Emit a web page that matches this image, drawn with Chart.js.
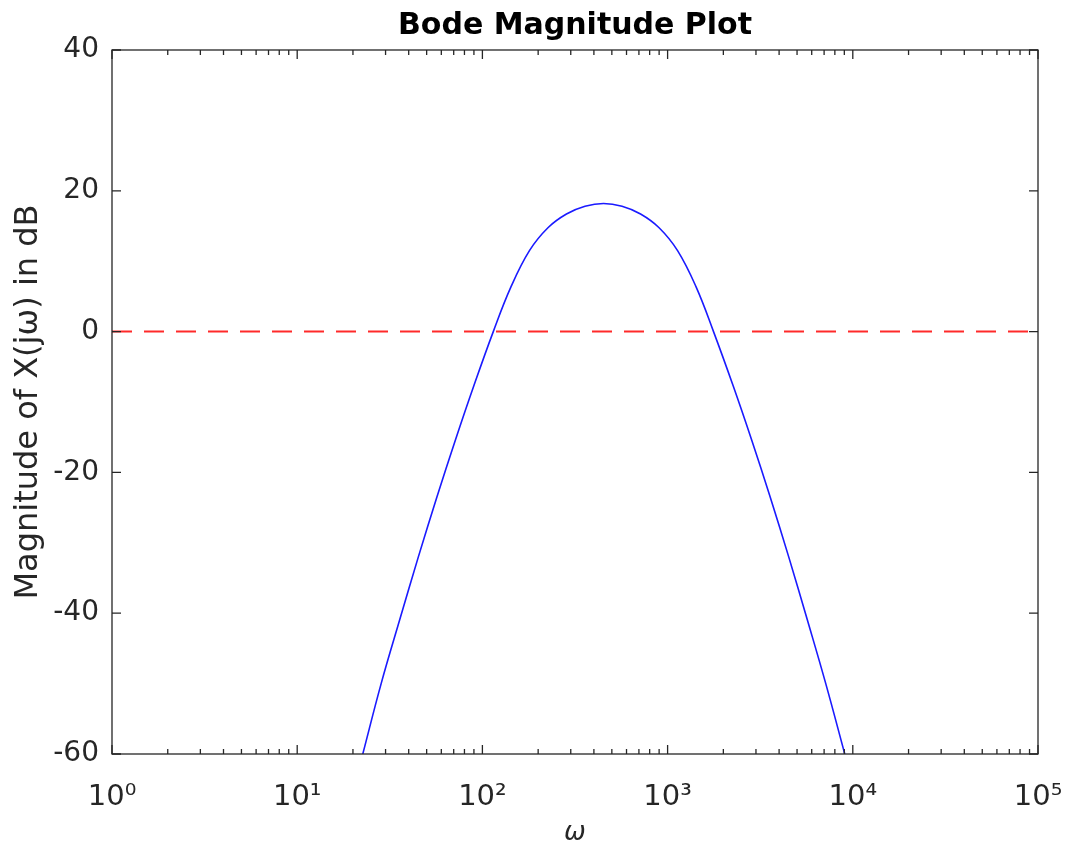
<!DOCTYPE html>
<html>
<head>
<meta charset="utf-8">
<script src="https://cdn.jsdelivr.net/npm/chart.js@4.4.1/dist/chart.umd.min.js"></script>
<style>
html,body{margin:0;padding:0;background:#fff;}
#wrap{width:1070px;height:856px;}
</style>
</head>
<body>
<div id="wrap"><canvas id="c" width="1070" height="856"></canvas></div>
<script>
// ---- data ----
const omega = [22.6, 28.4, 35.8, 45.1, 56.8, 71.5, 89.9, 114.5, 142.6, 179.5, 225.9, 284.4, 358.1, 450.8, 567.5, 714.5, 899.5, 1132, 1425, 1770, 2259, 2844, 3580, 4508, 5675, 7145, 9050];
const magnitudeDb = [-60, -50.0, -40.9, -32.0, -23.5, -15.4, -7.7, 0, 6.35, 11.5, 14.75, 16.7, 17.8, 18.2, 17.8, 16.7, 14.75, 11.5, 6.35, 0, -7.7, -15.4, -23.5, -32.0, -40.9, -50.0, -60];
const referenceOmega = [1, 100000];
const referenceDb = [0, 0];
const xMajorTicks = [1, 10, 100, 1000, 10000, 100000];
const xTickLabels = ['10\u2070', '10\u00B9', '10\u00B2', '10\u00B3', '10\u2074', '10\u2075'];
const xMinorMantissas = [2, 3, 4, 5, 6, 7, 8, 9];
const yTicks = [-60, -40, -20, 0, 20, 40];
const yTickLabels = ['-60', '-40', '-20', '0', '20', '40'];
const chartTitle = 'Bode Magnitude Plot';
const yAxisLabel = 'Magnitude of X(j\u03C9) in dB';
const xAxisLabel = '\u03C9';

const curvePoints = omega.map((w, i) => ({x: w, y: magnitudeDb[i]}));
const refPoints = referenceOmega.map((w, i) => ({x: w, y: referenceDb[i]}));

const axisColor = '#262626';

const framePlugin = {
  id: 'frame',
  afterDraw(chart) {
    const {ctx, chartArea: a, scales: {x, y}} = chart;
    ctx.save();
    ctx.strokeStyle = axisColor;
    ctx.lineWidth = 1.3;
    ctx.beginPath();
    const majorLen = 9, minorLen = 5;
    for (let d = 0; d < xMajorTicks.length - 1; d++) {
      xMinorMantissas.forEach(m => {
        const px = x.getPixelForValue(m * xMajorTicks[d]);
        ctx.moveTo(px, a.bottom); ctx.lineTo(px, a.bottom - minorLen);
        ctx.moveTo(px, a.top); ctx.lineTo(px, a.top + minorLen);
      });
    }
    xMajorTicks.forEach(v => {
      const px = x.getPixelForValue(v);
      ctx.moveTo(px, a.bottom); ctx.lineTo(px, a.bottom - majorLen);
      ctx.moveTo(px, a.top); ctx.lineTo(px, a.top + majorLen);
    });
    yTicks.forEach(v => {
      const py = y.getPixelForValue(v);
      ctx.moveTo(a.left, py); ctx.lineTo(a.left + majorLen, py);
      ctx.moveTo(a.right, py); ctx.lineTo(a.right - majorLen, py);
    });
    ctx.stroke();
    ctx.strokeRect(a.left, a.top, a.right - a.left, a.bottom - a.top);
    ctx.restore();
  }
};

new Chart(document.getElementById('c'), {
  type: 'scatter',
  data: {
    datasets: [
      {
        label: '|X(jω)|',
        data: curvePoints,
        showLine: true,
        borderColor: '#1a1aff',
        borderWidth: 1.6,
        pointRadius: 0,
        tension: 0.4,
        fill: false
      },
      {
        label: '0 dB',
        data: refPoints,
        showLine: true,
        borderColor: '#ff2a2a',
        borderWidth: 2,
        borderDash: [20, 12],
        pointRadius: 0,
        fill: false
      }
    ]
  },
  plugins: [framePlugin],
  options: {
    responsive: false,
    animation: false,
    devicePixelRatio: 1,
    layout: {padding: {left: 0, right: 32, top: 0, bottom: 0}},
    plugins: {
      legend: {display: false},
      tooltip: {enabled: false},
      title: {
        display: true,
        text: chartTitle,
        fullSize: false,
        color: '#000000',
        font: {family: 'DejaVu Sans', size: 30, weight: 'bold', lineHeight: 1.2},
        padding: {top: 8, bottom: 6}
      }
    },
    scales: {
      x: {
        type: 'logarithmic',
        min: 1,
        max: 100000,
        afterBuildTicks(axis) { axis.ticks = xMajorTicks.map(v => ({value: v})); },
        afterFit(axis) { axis.height = 102; axis.paddingLeft = 0; axis.paddingRight = 0; },
        grid: {display: false, drawTicks: false},
        border: {display: false},
        ticks: {
          autoSkip: false,
          maxRotation: 0,
          padding: 26,
          color: axisColor,
          font: {family: 'DejaVu Sans', size: 29},
          callback: (v, i) => xTickLabels[i]
        },
        title: {
          display: true,
          text: xAxisLabel,
          color: axisColor,
          font: {family: 'DejaVu Sans', size: 26, style: 'italic', lineHeight: 1.2},
          padding: {top: 0, bottom: 7}
        }
      },
      y: {
        type: 'linear',
        min: -60,
        max: 40,
        afterBuildTicks(axis) { axis.ticks = yTicks.map(v => ({value: v})); },
        afterFit(axis) { axis.width = 112; },
        grid: {display: false, drawTicks: false},
        border: {display: false},
        ticks: {
          padding: 13,
          color: axisColor,
          font: {family: 'DejaVu Sans', size: 28},
          callback: (v, i) => yTickLabels[i]
        },
        title: {
          display: true,
          text: yAxisLabel,
          color: axisColor,
          font: {family: 'DejaVu Sans', size: 32, lineHeight: 1.2},
          padding: {top: 9, bottom: 0}
        }
      }
    }
  }
});
</script>
</body>
</html>
